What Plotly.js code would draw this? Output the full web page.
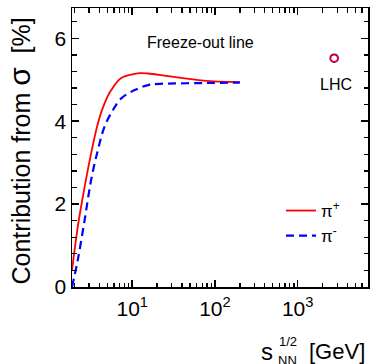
<!DOCTYPE html>
<html>
<head>
<meta charset="utf-8">
<script src="https://cdn.plot.ly/plotly-3.0.1.min.js"></script>
<style>html,body{margin:0;padding:0;background:#fff;}#chart{width:372px;height:364px;}</style>
</head>
<body>
<div id="chart"></div>
<script>
// Data
const energyPlus = [1.87, 2.2, 2.66, 3.19, 3.85, 4.63, 5.57, 7.36, 10.7, 12.4, 15.5, 28.6, 72, 200];
const contribPlus = [0.40, 1.46, 2.42, 3.23, 3.95, 4.43, 4.75, 5.04, 5.14, 5.16, 5.15, 5.08, 4.98, 4.94];
const energyMinus = [1.87, 2.2, 2.66, 3.19, 3.85, 4.63, 5.85, 7.36, 10.7, 15.5, 21.6, 72, 200];
const contribMinus = [0.0, 0.66, 1.62, 2.59, 3.31, 3.87, 4.27, 4.55, 4.75, 4.87, 4.90, 4.92, 4.93];
const lhcEnergy = [2760];
const lhcValue = [5.52];
const xTickVals = [10, 100, 1000];
const xTickText = ['10<sup>1</sup>', '10<sup>2</sup>', '10<sup>3</sup>'];
const xMinorVals = [2,3,4,5,6,7,8,9,20,30,40,50,60,70,80,90,200,300,400,500,600,700,800,900,2000,3000,4000,5000,6000,7000];

const FONT = 'Liberation Sans, Arial, sans-serif';
const L = 72, R = 4, T = 8, B = 77, W = 372, H = 364;
const pw = W - L - R, ph = H - T - B;
const px = x => (x - L) / pw;
const py = y => (H - B - y) / ph;
const XR = [Math.log10(1.87), 3.85];
const YR = [0, 6.73];

const traces = [
  {x: energyPlus, y: contribPlus, mode: 'lines', name: 'π<sup>+</sup>',
   line: {color: '#ff0000', width: 1.8, shape: 'spline', smoothing: 1}},
  {x: energyMinus, y: contribMinus, mode: 'lines', name: 'π<sup>-</sup>',
   line: {color: '#0000ff', width: 2.2, dash: '8px,5px', shape: 'spline', smoothing: 1}},
  // LHC point drawn on the overlay axes (same ranges), which also carry the minor ticks
  {x: lhcEnergy, y: lhcValue, mode: 'markers', showlegend: false, xaxis: 'x2', yaxis: 'y2',
   marker: {symbol: 'circle-open', size: 8, color: '#0000ff', line: {width: 1.5, color: '#0000ff'}}},
  {x: lhcEnergy, y: lhcValue, mode: 'markers', showlegend: false, xaxis: 'x2', yaxis: 'y2',
   marker: {symbol: 'circle-open', size: 7, color: '#ff0000', line: {width: 1.5, color: '#ff0000'}}}
];

const ann = (x, y, text, size, extra) => Object.assign({
  xref: 'paper', yref: 'paper', x: px(x), y: py(y), text: text, showarrow: false,
  xanchor: 'center', yanchor: 'middle', font: {family: FONT, size: size, color: '#000'}
}, extra || {});

const axisCommon = {showgrid: false, zeroline: false, showline: true, linecolor: '#000', linewidth: 1.5,
  mirror: 'ticks', ticks: 'inside', tickcolor: '#000'};

const layout = {
  width: W, height: H,
  margin: {l: L, r: R, t: T, b: B, pad: 0},
  paper_bgcolor: '#fff', plot_bgcolor: '#fff',
  font: {family: FONT, color: '#000'},
  showlegend: true,
  legend: {x: px(281), y: py(193), xanchor: 'left', yanchor: 'top', bgcolor: 'rgba(0,0,0,0)',
    font: {family: FONT, size: 17, color: '#000'}, itemwidth: 30, tracegroupgap: 0},
  xaxis: Object.assign({}, axisCommon, {type: 'log', range: XR, ticklen: 7, tickwidth: 1.5,
    tickmode: 'array', tickvals: xTickVals, ticktext: xTickText, ticklabelstandoff: 2,
    tickfont: {family: FONT, size: 21, color: '#000'}}),
  yaxis: Object.assign({}, axisCommon, {range: YR, ticklen: 7, tickwidth: 1.5,
    tick0: 0, dtick: 2, tickfont: {family: FONT, size: 21, color: '#000'}}),
  xaxis2: Object.assign({}, axisCommon, {type: 'log', range: XR, overlaying: 'x', anchor: 'y2', side: 'bottom',
    ticklen: 4.5, tickwidth: 1.3, tickmode: 'array', tickvals: xMinorVals, showticklabels: false}),
  yaxis2: Object.assign({}, axisCommon, {range: YR, overlaying: 'y', anchor: 'x2', side: 'left',
    ticklen: 4.5, tickwidth: 1.3, tickmode: 'linear', tick0: 0, dtick: 0.4, showticklabels: false}),
  annotations: [
    ann(200, 43, 'Freeze-out line', 16),
    ann(335.5, 84, 'LHC', 16),
    ann(19, 151.5, 'Contribution from <span style="font-size:30px">σ</span>  [%]', 25, {textangle: -90}),
    ann(267, 351.5, 's', 24),
    ann(287.5, 341, '1/2', 13),
    ann(287.5, 360.5, 'NN', 13),
    ann(336.5, 351.5, '[GeV]', 22)
  ]
};

Plotly.newPlot('chart', traces, layout, {displayModeBar: false, staticPlot: true});
</script>
</body>
</html>
